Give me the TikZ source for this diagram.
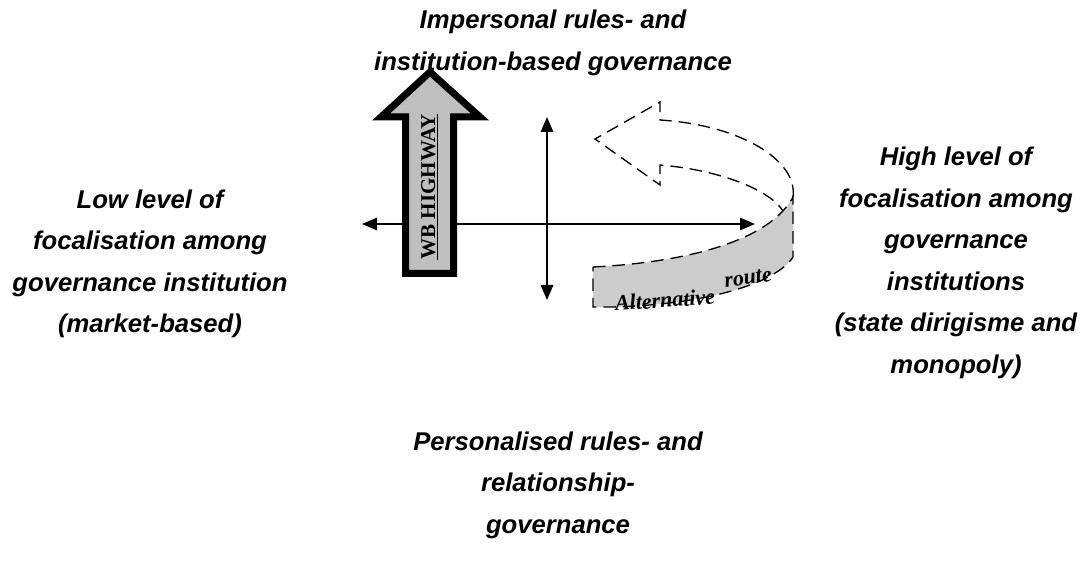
\documentclass[tikz,border=0pt]{standalone}
\usepackage{fontspec}
\setmainfont{Liberation Sans}
\newfontfamily\timesfam{Liberation Serif}
\usepackage{tikz}
\usetikzlibrary{arrows.meta}

\begin{document}
\begin{tikzpicture}[x=0.02cm, y=-0.02cm,
  lbl/.style={align=center, font=\fontsize{14.6}{23.6}\selectfont\bfseries\itshape},
  axis/.style={line width=0.85pt, {Triangle[length=0.3cm,width=0.25cm]}-{Triangle[length=0.3cm,width=0.25cm]}},
  route/.style={dash pattern=on 0.25cm off 0.14cm, line width=0.75pt}]
  \useasboundingbox (0,0) rectangle (1084,573);
  % labels
  \node[lbl] (imp) at (553,43) {Impersonal rules- and\\institution-based governance};
  \node[lbl] (low) at (150,264) {Low level of\\focalisation among\\governance institution\\(market-based)};
  \node[lbl] (high) at (956,263) {High level of\\focalisation among\\governance\\institutions\\(state dirigisme and\\monopoly)};
  \node[lbl] (pers) at (558,485) {Personalised rules- and\\relationship-\\governance};
  % axes
  \coordinate (hl) at (362,224);
  \coordinate (hr) at (755,224);
  \coordinate (vt) at (547,117);
  \coordinate (vb) at (547,300);
  \draw[axis] (hl) -- (hr);
  \draw[axis] (vt) -- (vb);
  % WB highway
  \draw[line width=0.14cm, fill=black!25, line join=miter]
    (405.5,273.5) -- (405.5,117) -- (381,117) -- (430,72) -- (480,117)
    -- (453.5,117) -- (453.5,273.5) -- cycle;
  \node[rotate=90, font=\timesfam\fontsize{12}{14}\selectfont\bfseries] (wb) at (430,187) {\underline{WB HIGHWAY}};
  % alternative route
  \draw[route, fill=black!20]
    (593,267) .. controls (690,262) and (770,240) .. (793,197) -- (793,257)
    .. controls (775,285) and (700,305) .. (612,307) -- (593,307) -- cycle;
  \draw[route]
    (793,197) .. controls (798,160) and (740,125) .. (660,120) -- (660,102)
    -- (595,139) -- (660,185) -- (660,165) .. controls (720,170) and (770,190) .. (783,211);
  \node[rotate=4, font=\timesfam\fontsize{12.5}{14}\selectfont\bfseries\itshape] (alt) at (665,300) {Alternative};
  \node[rotate=8, font=\timesfam\fontsize{12.5}{14}\selectfont\bfseries\itshape] (rt) at (748,278) {route};
\end{tikzpicture}
\end{document}
